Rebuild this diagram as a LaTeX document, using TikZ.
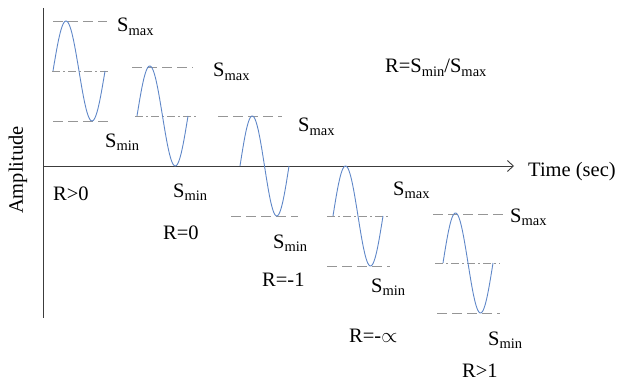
\documentclass[tikz,border=0pt]{standalone}
\usepackage{fontspec}
\setmainfont{Liberation Serif}
\usetikzlibrary{arrows.meta}
\definecolor{wavecol}{RGB}{95,135,200}
\definecolor{guidecol}{RGB}{150,150,150}
\definecolor{axiscol}{RGB}{60,60,60}
\newcommand{\subtxt}[1]{\raisebox{-0.35ex}{\fontsize{14.5}{14.5}\selectfont #1}}
\newcommand{\wavecurve}[4]{\draw[wavestyle] plot[domain=0:360,samples=73,smooth] ({#1+\x/360*(#2-#1)},{#3-#4*sin(\x)});}
\begin{document}
\begin{tikzpicture}[x=1pt,y=-1pt,
  wavestyle/.style={draw=wavecol, line width=0.9pt},
  dashline/.style={draw=guidecol, line width=0.8pt, dash pattern=on 10pt off 5pt},
  dotdashline/.style={draw=guidecol, line width=0.8pt, dash pattern=on 8pt off 3pt on 2pt off 3pt},
  axisline/.style={draw=axiscol, line width=0.9pt},
  lbl/.style={inner sep=0pt, anchor=base west, font=\fontsize{20.5}{24}\selectfont}]
\useasboundingbox (0,0) rectangle (620,382);
% axes
\coordinate (vtop) at (43,8);
\coordinate (vbot) at (43,318);
\coordinate (hend) at (514,166);
\coordinate (horg) at (43,166);
\draw[axisline] (vtop) -- (vbot);
\draw[axisline, -{Straight Barb[length=6pt,width=11pt]}] (horg) -- (hend);
\node[lbl] (time) at (528,176) {Time (sec)};
\node[inner sep=0pt, rotate=90, font=\fontsize{20.5}{24}\selectfont] (amp) at (18,170) {Amplitude};
\node[lbl] (ratio) at (385,73) {R=S\subtxt{min}/S\subtxt{max}};
% wave 1 : R>0
\draw[dashline] (53,21) -- (107,21);
\draw[dotdashline] (52,71) -- (108,71);
\draw[dashline] (53,121) -- (108,121);
\wavecurve{53}{105}{71}{50}
\node[lbl] (smax1) at (117,32) {S\subtxt{max}};
\node[lbl] (smin1) at (105,147) {S\subtxt{min}};
\node[lbl] (r1) at (53,200) {R>0};
% wave 2 : R=0
\draw[dashline] (132,67) -- (193,67);
\draw[dotdashline] (135,116) -- (198,116);
\wavecurve{137}{188}{116}{50}
\node[lbl] (smax2) at (213,77) {S\subtxt{max}};
\node[lbl] (smin2) at (173,197) {S\subtxt{min}};
\node[lbl] (r2) at (163,239) {R=0};
% wave 3 : R=-1
\draw[dashline] (218,116) -- (282,116);
\draw[dashline] (231,216) -- (298,216);
\wavecurve{240}{289}{166}{50}
\node[lbl] (smax3) at (298,132) {S\subtxt{max}};
\node[lbl] (smin3) at (273,248) {S\subtxt{min}};
\node[lbl] (r3) at (262,286) {R=-1};
% wave 4 : R=-inf
\draw[dotdashline] (327,216) -- (390,216);
\draw[dashline] (327,266) -- (390,266);
\wavecurve{333}{383}{216}{50}
\node[lbl] (smax4) at (393,195) {S\subtxt{max}};
\node[lbl] (smin4) at (371,292) {S\subtxt{min}};
\node[lbl] (r4) at (349,342) {R=-$\propto$};
% wave 5 : R>1
\draw[dashline] (433,214) -- (503,214);
\draw[dotdashline] (435,263) -- (500,263);
\draw[dashline] (437,313) -- (500,313);
\wavecurve{443}{493}{263}{50}
\node[lbl] (smax5) at (510,222) {S\subtxt{max}};
\node[lbl] (smin5) at (488,345) {S\subtxt{min}};
\node[lbl] (r5) at (462,377) {R>1};
\end{tikzpicture}
\end{document}
